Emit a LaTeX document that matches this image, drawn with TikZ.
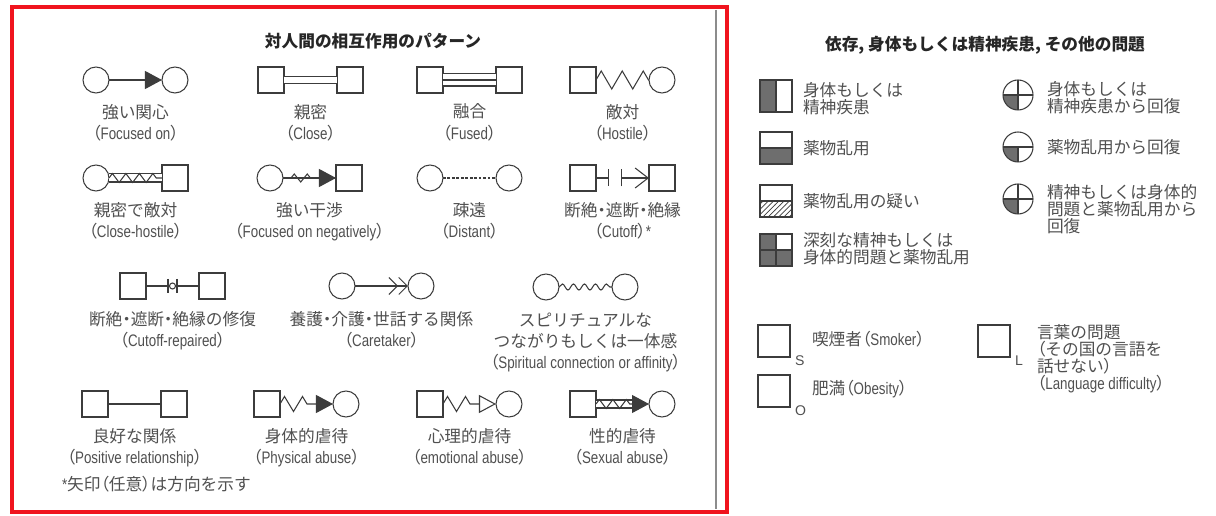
\documentclass[tikz,border=0pt]{standalone}
\usepackage{fontspec}
\setmainfont{Noto Sans CJK JP}
\newfontfamily\pfont[RawFeature=+palt]{Noto Sans CJK JP}
\newfontfamily\enfont[FakeStretch=0.8]{Liberation Sans}
\newfontfamily\subfont{Liberation Sans}
\newcommand{\en}[1]{{\enfont #1}}
\newcommand{\lp}{{\pfont （}}
\newcommand{\rp}{{\pfont ）}}
\newcommand{\md}{{\pfont ・}}
\usetikzlibrary{arrows.meta,positioning,calc,decorations.pathmorphing,patterns}
\definecolor{ink}{HTML}{505050}
\definecolor{linecol}{HTML}{3C3C3C}
\definecolor{greyfill}{HTML}{6E6E6E}
\definecolor{redframe}{HTML}{F0141E}

\begin{document}
\begin{tikzpicture}[
    x = 0.02cm, y = -0.02cm, % one unit = one pixel of the reference
    line width = 0.6pt, % line style
    node distance = 1.06cm, % gap between the two persons of a pair
    every node/.style = {inner sep = 0pt, outer sep = 0pt},
    person/.style = {draw = linecol, minimum size = 0.52cm},
    fem/.style = {person, circle},
    male/.style = {person, rectangle},
    tie/.style = {draw = linecol},
    dbl/.style = {draw = linecol, double = white, double distance = #1},
    dbl/.default = 0.12cm,
    zz/.style = {decorate, decoration = {zigzag, #1}},
    fullhead/.style = {-{Triangle[length = 0.34cm, width = 0.36cm]}},
    openhead/.style = {-{Triangle[open, length = 0.34cm, width = 0.36cm]}},
    lbl/.style = {text = ink, align = center, anchor = north, font = \fontsize{9.5}{12}\selectfont},
    legtxt/.style = {text = ink, align = left, font = \fontsize{9.5}{9.8}\selectfont},
    ttl/.style = {text = black!85, font = \fontsize{9.5}{12}\selectfont\bfseries},
    subl/.style = {text = ink, font = \subfont\fontsize{8}{9}\selectfont},
    legsq/.style = {draw = linecol, minimum size = 0.64cm},
    legci/.style = {draw = linecol, circle, minimum size = 0.6cm}
    ]

    \fill[white] (0,0) rectangle (1216,516);
    \useasboundingbox (0,0) rectangle (1216,516);
    \draw[draw = redframe, line width = 0.08cm] (12,7) rectangle (727,512);
    \draw[black!45, line width = 0.9pt] (716,10) -- (716,509);

    % left panel
    \node[ttl] (ttlL) at (373,41) {対人間の相互作用のパターン};

    \node[fem] (foc1) at (96,80) {};
    \node[fem, right=of foc1] (foc2) {};
    \draw[tie, fullhead] (foc1) -- (foc2);

    \node[male] (clo1) at (271,80) {};
    \node[male, right=of clo1] (clo2) {};
    \draw[dbl] (clo1) -- (clo2);

    \node[male] (fus1) at (430,80) {};
    \node[male, right=of fus1] (fus2) {};
    \draw[dbl=0.22cm] (fus1) -- (fus2);
    \draw[tie] (fus1) -- (fus2);

    \node[male] (hos1) at (583,80) {};
    \node[fem, right=of hos1] (hos2) {};
    \draw[tie, zz={amplitude=0.18cm, segment length=0.42cm}] (hos1) -- (hos2);

    \node[fem] (chs1) at (96,178) {};
    \node[male, right=of chs1] (chs2) {};
    \draw[dbl=0.14cm] (chs1) -- (chs2);
    \draw[tie, zz={amplitude=0.09cm, segment length=0.27cm}] (chs1) -- (chs2);

    \node[fem] (neg1) at (270,178) {};
    \node[male, right=of neg1] (neg2) {};
    \draw[tie, fullhead] (neg1) -- (neg2);
    \draw[tie, zz={amplitude=0.08cm, segment length=0.26cm, pre length=0.16cm, post length=0.44cm}] (neg1) -- (neg2);

    \node[fem] (dis1) at (430,178) {};
    \node[fem, right=of dis1] (dis2) {};
    \draw[tie, dash pattern=on 1.5pt off 1.05pt] (dis1) -- (dis2);

    \node[male] (cut1) at (583,178) {};
    \node[male, right=of cut1] (cut2) {};
    \coordinate (cutL) at ($(cut1.east)+(13,0)$);
    \coordinate (cutR) at ($(cut1.east)+(25,0)$);
    \draw[tie, -{Bar[width=0.34cm]}] (cut1) -- (cutL);
    \draw[tie, {Bar[width=0.34cm]}-{Straight Barb[length=0.26cm, width=0.4cm]}] (cutR) -- (cut2);

    \node[male] (rep1) at (133,286) {};
    \node[male, right=of rep1] (rep2) {};
    \draw[tie] (rep1) -- (rep2);
    \node[draw=linecol, circle, fill=white, minimum size=0.12cm] (repk) at ($(rep1)!0.5!(rep2)$) {};
    \draw[tie] ($(repk)+(-4.5,-7)$) -- ($(repk)+(-4.5,7)$)
               ($(repk)+(4.5,-7)$) -- ($(repk)+(4.5,7)$);

    \node[fem] (car1) at (342,286) {};
    \node[fem, right=of car1] (car2) {};
    \draw[tie, -{Straight Barb[length=0.17cm, width=0.34cm] Straight Barb[length=0.17cm, width=0.34cm]}] (car1) -- (car2);

    \node[fem] (spi1) at (546,287) {};
    \node[fem, right=of spi1] (spi2) {};
    \draw[tie, decorate, decoration={snake, amplitude=0.06cm, segment length=0.22cm}] (spi1) -- (spi2);

    \node[male] (pos1) at (95,404) {};
    \node[male, right=of pos1] (pos2) {};
    \draw[tie] (pos1) -- (pos2);

    \node[male] (phy1) at (267,404) {};
    \node[fem, right=of phy1] (phy2) {};
    \draw[tie, fullhead, zz={amplitude=0.15cm, segment length=0.36cm, post length=0.4cm}] (phy1) -- (phy2);

    \node[male] (emo1) at (430,404) {};
    \node[fem, right=of emo1] (emo2) {};
    \draw[tie, openhead, zz={amplitude=0.15cm, segment length=0.36cm, post length=0.4cm}] (emo1) -- (emo2);

    \node[male] (sex1) at (583,404) {};
    \node[fem, right=of sex1] (sex2) {};
    \coordinate (sexm) at ($(sex2.west)+(-17,0)$);
    \draw[dbl=0.14cm] (sex1) -- (sexm);
    \draw[tie, zz={amplitude=0.09cm, segment length=0.27cm}] (sex1) -- (sexm);
    \draw[tie, fullhead] (sexm) -- (sex2);

    % labels under each pair
    \node[lbl] (focl) at ($(foc1)!0.5!(foc2)+(0,24)$) {強い関心\\\lp\en{Focused on}\rp};
    \node[lbl] (clol) at ($(clo1)!0.5!(clo2)+(0,24)$) {親密\\\lp\en{Close}\rp};
    \node[lbl] (fusl) at ($(fus1)!0.5!(fus2)+(0,24)$) {融合\\\lp\en{Fused}\rp};
    \node[lbl] (hosl) at ($(hos1)!0.5!(hos2)+(0,24)$) {敵対\\\lp\en{Hostile}\rp};
    \node[lbl] (chsl) at ($(chs1)!0.5!(chs2)+(0,24)$) {親密で敵対\\\lp\en{Close-hostile}\rp};
    \node[lbl] (negl) at ($(neg1)!0.5!(neg2)+(0,24)$) {強い干渉\\\lp\en{Focused on negatively}\rp};
    \node[lbl] (disl) at ($(dis1)!0.5!(dis2)+(0,24)$) {疎遠\\\lp\en{Distant}\rp};
    \node[lbl] (cutl) at ($(cut1)!0.5!(cut2)+(0,24)$) {断絶\md 遮断\md 絶縁\\\lp\en{Cutoff}\rp\en{*}};
    \node[lbl] (repl) at ($(rep1)!0.5!(rep2)+(0,25)$) {断絶\md 遮断\md 絶縁の修復\\\lp\en{Cutoff-repaired}\rp};
    \node[lbl] (carl) at ($(car1)!0.5!(car2)+(0,25)$) {養護\md 介護\md 世話する関係\\\lp\en{Caretaker}\rp};
    \node[lbl] (spil) at ($(spi1)!0.5!(spi2)+(0,26)$) {スピリチュアルな\\つながりもしくは一体感\\\lp\en{Spiritual connection or affinity}\rp};
    \node[lbl] (posl) at ($(pos1)!0.5!(pos2)+(0,24)$) {良好な関係\\\lp\en{Positive relationship}\rp};
    \node[lbl] (phyl) at ($(phy1)!0.5!(phy2)+(0,24)$) {身体的虐待\\\lp\en{Physical abuse}\rp};
    \node[lbl] (emol) at ($(emo1)!0.5!(emo2)+(0,24)$) {心理的虐待\\\lp\en{emotional abuse}\rp};
    \node[lbl] (sexl) at ($(sex1)!0.5!(sex2)+(0,24)$) {性的虐待\\\lp\en{Sexual abuse}\rp};
    \node[lbl, anchor=west] (note) at (62,484) {\en{*}矢印\lp 任意\rp は方向を示す};

    % right panel
    \node[ttl] (ttlR) at (985,45) {依存, 身体もしくは精神疾患, その他の問題};

    \node[legsq, path picture={\fill[greyfill] (path picture bounding box.south west) rectangle (path picture bounding box.north);}] (ill) at (776,96) {};
    \draw[tie] (ill.north) -- (ill.south);
    \node[legtxt, anchor=west] (illt) at (803,99) {身体もしくは\\精神疾患};

    \node[legsq, path picture={\fill[greyfill] (path picture bounding box.south west) rectangle (path picture bounding box.east);}] (abu) at (776,148) {};
    \draw[tie] (abu.west) -- (abu.east);
    \node[legtxt, anchor=west] (abut) at (803,148) {薬物乱用};

    \node[legsq, path picture={\fill[pattern=north east lines, pattern color=linecol] (path picture bounding box.south west) rectangle (path picture bounding box.east);}] (sus) at (776,201) {};
    \draw[tie] (sus.west) -- (sus.east);
    \node[legtxt, anchor=west] (sust) at (803,201) {薬物乱用の疑い};

    \node[legsq, path picture={\fill[greyfill] (path picture bounding box.south west) rectangle (path picture bounding box.north)
        (path picture bounding box.south) rectangle (path picture bounding box.east);}] (ser) at (776,250) {};
    \draw[tie] (ser.north) -- (ser.south) (ser.west) -- (ser.east);
    \node[legtxt, anchor=west] (sert) at (803,249) {深刻な精神もしくは\\身体的問題と薬物乱用};

    \node[legci, path picture={\fill[greyfill] (path picture bounding box.center) rectangle (path picture bounding box.south west);}] (rill) at (1018,95) {};
    \draw[tie] (rill.north) -- (rill.south) (rill.west) -- (rill.east);
    \node[legtxt, anchor=west] (rillt) at (1047,98) {身体もしくは\\精神疾患から回復};

    \node[legci, path picture={\fill[greyfill] (path picture bounding box.center) rectangle (path picture bounding box.south west);}] (rabu) at (1018,147) {};
    \draw[tie] (rabu.center) -- (rabu.south) (rabu.west) -- (rabu.east);
    \node[legtxt, anchor=west] (rabut) at (1047,147) {薬物乱用から回復};

    \node[legci, path picture={\fill[greyfill] (path picture bounding box.center) rectangle (path picture bounding box.south west);}] (rser) at (1018,199) {};
    \draw[tie] (rser.north) -- (rser.south) (rser.west) -- (rser.east);
    \node[legtxt, anchor=north west] (rsert) at (1047,184) {精神もしくは身体的\\問題と薬物乱用から\\回復};

    \node[legsq] (smk) at (774,341) {};
    \node[subl, anchor=west] (smks) at ($(smk.south east)+(5,4)$) {S};
    \node[legtxt, anchor=west] (smkt) at (812,339) {喫煙者\lp\en{Smoker}\rp};

    \node[legsq] (obe) at (774,391) {};
    \node[subl, anchor=west] (obes) at ($(obe.south east)+(5,4)$) {O};
    \node[legtxt, anchor=west] (obet) at (812,389) {肥満\lp\en{Obesity}\rp};

    \node[legsq] (lan) at (994,341) {};
    \node[subl, anchor=west] (lans) at ($(lan.south east)+(5,4)$) {L};
    \node[legtxt, anchor=north west] (lant) at (1037,324) {言葉の問題\\\lp その国の言語を\\話せない\rp\\\lp\en{Language difficulty}\rp};
\end{tikzpicture}
\end{document}
